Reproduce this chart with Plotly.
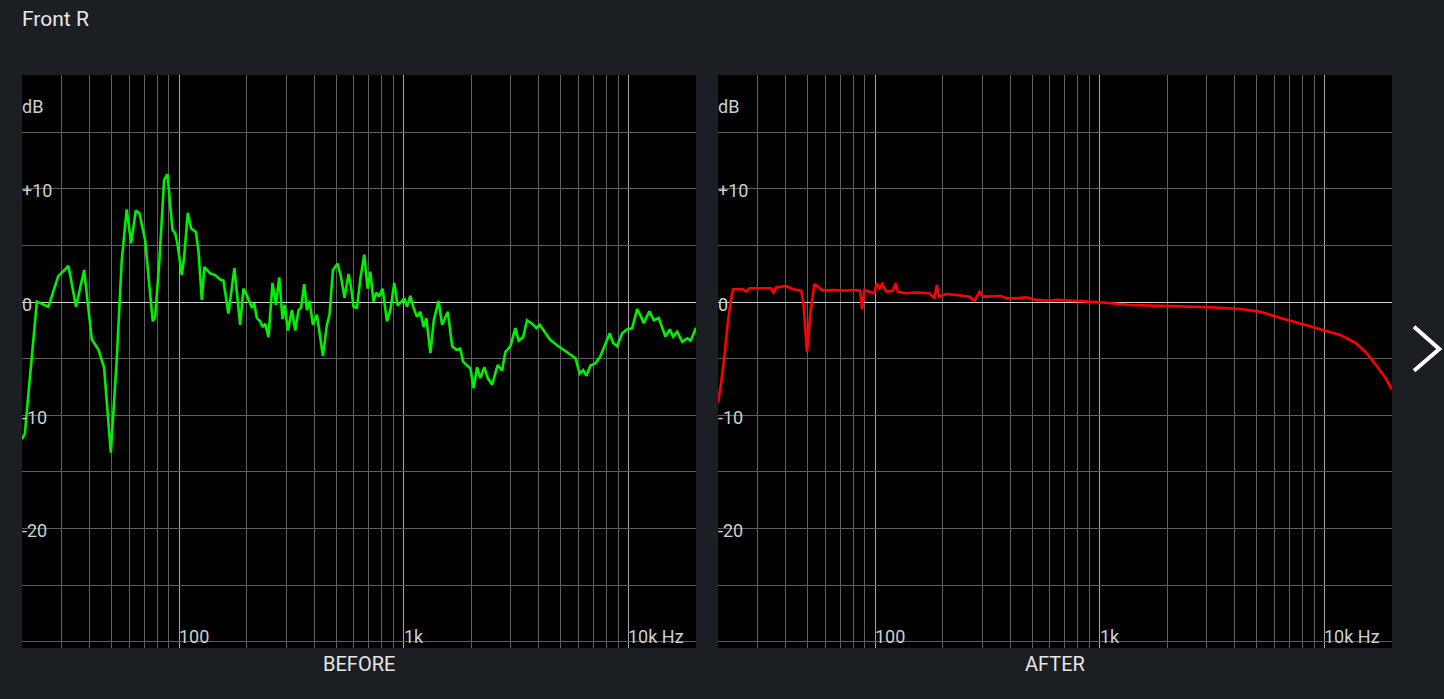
import math
import plotly.graph_objects as go

# ---------------- data ----------------
TITLE = "Front R"
PANEL_LABELS = ["BEFORE", "AFTER"]

BEFORE_FREQ_HZ = [
    20, 20.6, 21.7, 23.3, 26.2, 29.0, 32.2, 34.8, 37.8, 40.9, 43.8, 46.4, 49.7,
    52.8, 55.6, 58.5, 61.2, 64.2, 66.6, 70.6, 76.4, 78.3, 81.8, 85.8, 88.8,
    93.5, 96.1, 98.3, 102.9, 105.4, 109.4, 113.2, 118.8, 122.0, 126.3, 129.7,
    137.5, 144.7, 152.4, 157.6, 165.9, 176.4,
    187.1, 193.5, 200.4, 211.0, 216.0, 222.1, 229.7, 236.2, 241.8, 250.1,
    260.6, 269.9, 279.2, 288.8, 294.8, 305.3, 318.1, 329.1, 340.4, 348.9,
    360.9, 370.9, 380.9, 394.4, 410.9, 437.0, 455.3, 467.6, 484.2, 507.6,
    525.6, 545.4, 568.2, 584.2, 598.1, 619.4, 640.7, 667.5, 690.5, 709.9,
    734.3, 754.9, 776.1, 805.3, 842.5, 871.5, 908.0, 939.3, 972.7, 1006,
    1034, 1070, 1107, 1146, 1186, 1227, 1261, 1315, 1361, 1429, 1483, 1571,
    1644, 1716, 1786,
    1837, 1914, 1980, 2048, 2121, 2194, 2286, 2365, 2474, 2619, 2740, 2834,
    2984, 3141, 3249, 3399, 3541, 3728, 3896, 4030, 4272, 4496, 4815, 5153,
    5521, 5812, 6074, 6290, 6507, 6779, 7136, 7457, 7826, 8263, 8556, 8914,
    9382, 9876, 10394, 10941, 11400, 11708, 12412, 12973, 13654, 14629,
    15287, 15832, 16494, 17362, 18272, 18901, 19552, 20000,
]
BEFORE_DB = [
    -12.1, -11.6, -6.6, 0.05, -0.4, 2.3, 3.2, -0.4, 2.85, -3.3, -4.2, -5.8, -13.3,
    -5.1, 3.7, 8.2, 5.2, 8.1, 7.85, 5.5, -1.7, -1.3, 3.7, 10.8, 11.3,
    6.4, 6.1, 5.2, 2.4, 4.0, 7.9, 6.5, 6.2, 4.6, 0.2, 3.1,
    2.55, 2.4, 2.0, 1.9, -1.0, 3.0,
    -2.0, 1.2, 0.6, -0.5, -0.1, -1.4, -1.7, -2.2, -1.9, -3.1,
    1.7, -0.25, 2.2, -1.5, -0.25, -2.5, -0.7, -2.5, -0.7, -0.5,
    1.6, -0.7, 0.1, -2.0, -1.1, -4.75, -2.0, -1.1, 2.85, 3.4,
    2.25, 0.4, 2.5, 1.2, -0.4, -0.5, 2.0, 4.2, 1.2, 2.7,
    0.05, 0.85, 0.5, 1.2, -1.7, -0.7, 1.7, -0.3, 0.0, 0.35,
    -0.4, 0.55, -0.5, -1.3, -0.85, -2.2, -1.4, -4.5, -1.6, 0.1, -2.0, -0.85,
    -3.9, -4.2, -4.1,
    -5.25, -5.6, -5.85, -7.6, -5.75, -6.7, -5.75, -6.7, -7.3, -5.55, -6.05, -4.4,
    -3.9, -2.3, -3.4, -3.1, -1.6, -1.9, -2.3, -2.0, -2.75, -3.35, -3.8, -4.2,
    -4.65, -4.95, -6.3, -6.0, -6.5, -5.6, -5.4, -4.9, -3.9, -2.75, -3.6, -3.9,
    -2.75, -2.4, -2.3, -0.6, -1.3, -1.85, -0.8, -1.6, -1.4, -3.05,
    -2.4, -3.05, -2.6, -3.5, -3.2, -3.4, -2.75, -2.25,
]

AFTER_FREQ_HZ = [
    20, 20.6, 21.3, 22.2, 23.0, 23.4, 25.8, 26.7, 27.6, 30.5, 34.4, 35.3, 36.3,
    40.2, 43.1, 46.9, 48.0, 49.8, 51.5, 53.7, 56.5, 58.5, 64.9, 71.9, 82.4,
    85.8, 87.6, 89.7, 94.4, 99.3, 101.8, 104.6, 107.5, 112.0, 120.0, 123.3,
    126.3, 137.5, 152.4, 174.6, 183.8, 188.5, 192.3, 207.3, 229.7, 263.3,
    277.1, 291.7, 302.2, 334.8, 364.6, 383.8, 425.2, 471.2, 522.0, 598.2,
    640.7, 1000, 1370, 2063, 3109, 4229, 5193, 6374, 7824, 9603, 11790,
    13750, 15240, 16880, 18720, 20000,
]
AFTER_DB = [
    -8.9, -7.3, -5.0, -1.5, 0.6, 1.14, 1.14, 0.93, 1.23, 1.2, 1.23, 0.87, 1.3,
    1.43, 1.14, 1.02, -0.1, -4.4, -1.0, 1.6, 1.23, 1.02, 1.08, 1.02, 1.08,
    1.0, -0.63, 1.08, 0.93, 0.79, 1.67, 1.23, 1.6, 0.93, 1.0, 1.67,
    0.93, 0.79, 0.85, 0.79, 0.34, 1.52, 0.49, 0.72, 0.64, 0.49,
    0.13, 0.93, 0.49, 0.49, 0.55, 0.34, 0.34, 0.43, 0.2, 0.13,
    0.2, 0.0, -0.25, -0.35, -0.45, -0.6, -0.85, -1.4, -1.9, -2.35, -2.9,
    -3.6, -4.4, -5.5, -6.7, -7.7,
]

X_RANGE_HZ = [20, 20000]
Y_RANGE_DB = [-30.55, 20.07]
X_MAJOR_TICKS = [100, 1000, 10000]
X_MAJOR_TEXT = ["100", "1k", "10k Hz"]
X_MINOR_TICKS = [30, 40, 50, 60, 70, 80, 90,
                 200, 300, 400, 500, 600, 700, 800, 900,
                 2000, 3000, 4000, 5000, 6000, 7000, 8000, 9000]
Y_GRID_TICKS = [-30, -25, -20, -15, -10, -5, 0, 5, 10, 15, 20]
Y_LABEL_TICKS = [-20, -10, 0, 10]
Y_LABEL_TEXT = ["-20", "-10", "0", "+10"]
Y_UNIT = "dB"

# ---------------- style ----------------
W, H = 1444, 699
PAGE_BG = "#1b1e22"
PLOT_BG = "#000000"
GRID = "#5e5e5e"
MAJOR_GRID = "#a8a8a8"
ZERO_GRID = "#d4d4d4"
TEXT = "#cfcfcf"
FONT = "Roboto"

plot_top, plot_bottom = 75, 648
left_x = (22, 696)
right_x = (718, 1392)
dom_y = [1 - plot_bottom / H, 1 - plot_top / H]
dom_l = [left_x[0] / W, left_x[1] / W]
dom_r = [right_x[0] / W, right_x[1] / W]

fig = go.Figure()
fig.add_trace(go.Scatter(x=BEFORE_FREQ_HZ, y=BEFORE_DB, mode="lines",
                         line=dict(color="#00f000", width=2.6),
                         xaxis="x", yaxis="y", hoverinfo="skip"))
fig.add_trace(go.Scatter(x=AFTER_FREQ_HZ, y=AFTER_DB, mode="lines",
                         line=dict(color="#ff0000", width=2.6),
                         xaxis="x2", yaxis="y2", hoverinfo="skip"))

xr = [math.log10(X_RANGE_HZ[0]), math.log10(X_RANGE_HZ[1])]


def xaxis(domain, anchor):
    return dict(domain=domain, anchor=anchor, type="log", range=xr,
                tickmode="array", tickvals=X_MAJOR_TICKS, showticklabels=False,
                ticks="", showgrid=True, gridcolor=MAJOR_GRID, gridwidth=1,
                minor=dict(tickmode="array", tickvals=X_MINOR_TICKS, showgrid=True,
                           gridcolor=GRID, gridwidth=1, ticks=""),
                zeroline=False, showline=False, fixedrange=True)


def yaxis(anchor):
    return dict(domain=dom_y, anchor=anchor, range=Y_RANGE_DB, tickmode="array",
                tickvals=Y_GRID_TICKS, showticklabels=False, ticks="",
                showgrid=True, gridcolor=GRID, gridwidth=1,
                zeroline=True, zerolinecolor=ZERO_GRID, zerolinewidth=1,
                showline=False, fixedrange=True)


annotations = []
for xa, ya, label, dom in (("x", "y", PANEL_LABELS[0], dom_l),
                           ("x2", "y2", PANEL_LABELS[1], dom_r)):
    # y labels
    for v, t in zip(Y_LABEL_TICKS, Y_LABEL_TEXT):
        annotations.append(dict(x=0, xref=f"{xa} domain", y=v, yref=ya,
                                text=t, showarrow=False, xanchor="left",
                                yanchor="middle", yshift=-2, xshift=-2,
                                font=dict(family=FONT, size=18, color=TEXT)))
    annotations.append(dict(x=0, xref=f"{xa} domain", y=(plot_bottom - 107) / (plot_bottom - plot_top),
                            yref=f"{ya} domain", text=Y_UNIT, showarrow=False,
                            xanchor="left", yanchor="middle", xshift=-2,
                            font=dict(family=FONT, size=18, color=TEXT)))
    # x labels
    for v, t in zip(X_MAJOR_TICKS, X_MAJOR_TEXT):
        annotations.append(dict(x=math.log10(v), xref=xa, y=(plot_bottom - 636) / (plot_bottom - plot_top),
                                yref=f"{ya} domain", text=t, showarrow=False,
                                xanchor="left", yanchor="middle", xshift=-2,
                                font=dict(family=FONT, size=18, color=TEXT)))
    annotations.append(dict(x=(dom[0] + dom[1]) / 2, xref="paper",
                            y=1 - 663.5 / H, yref="paper", text=label,
                            showarrow=False, xanchor="center", yanchor="middle",
                            font=dict(family=FONT, size=20, color="#e6e6e6")))

annotations.append(dict(x=22 / W, xref="paper", y=1 - 19 / H, yref="paper",
                        text=TITLE, showarrow=False, xanchor="left",
                        yanchor="middle", xshift=-2,
                        font=dict(family=FONT, size=21, color="#e8e8e8")))

chevron = dict(type="path", xref="paper", yref="paper",
               path=f"M {1414 / W} {1 - 326.7 / H} L {1439.3 / W} {1 - 349 / H} L {1414 / W} {1 - 370.7 / H}",
               line=dict(color="#ffffff", width=4))

fig.update_layout(
    width=W, height=H, autosize=False,
    margin=dict(l=0, r=0, t=0, b=0),
    paper_bgcolor=PAGE_BG, plot_bgcolor=PLOT_BG,
    showlegend=False,
    xaxis=xaxis(dom_l, "y"), yaxis=yaxis("x"),
    xaxis2=xaxis(dom_r, "y2"), yaxis2=yaxis("x2"),
    annotations=annotations,
    shapes=[chevron],
)

fig.write_html("out.html", config={"displayModeBar": False, "staticPlot": True},
               post_script="document.body.style.margin='0';document.body.style.overflow='hidden';")
